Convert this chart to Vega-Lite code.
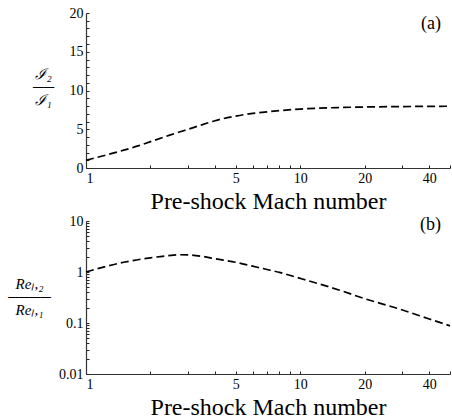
{
  "$schema": "https://vega.github.io/schema/vega-lite/v6.json",
  "description": "Post-shock to pre-shock ratios against pre-shock Mach number",
  "background": "white",
  "padding": {"left": 7, "top": 6, "right": 0, "bottom": 0},
  "spacing": 1,
  "datasets": {
    "ratio": [
      {"mach": 1, "value": 1.0},
      {"mach": 1.25, "value": 1.7},
      {"mach": 1.5, "value": 2.3},
      {"mach": 1.75, "value": 2.85},
      {"mach": 2, "value": 3.4},
      {"mach": 2.5, "value": 4.3},
      {"mach": 3, "value": 5.0},
      {"mach": 3.5, "value": 5.6},
      {"mach": 4, "value": 6.1},
      {"mach": 5, "value": 6.7},
      {"mach": 6, "value": 7.05},
      {"mach": 7, "value": 7.25},
      {"mach": 8, "value": 7.4},
      {"mach": 10, "value": 7.6},
      {"mach": 15, "value": 7.8},
      {"mach": 20, "value": 7.87},
      {"mach": 30, "value": 7.93},
      {"mach": 40, "value": 7.95},
      {"mach": 50, "value": 7.97}
    ],
    "reynolds": [
      {"mach": 1, "value": 1.0},
      {"mach": 1.25, "value": 1.3},
      {"mach": 1.5, "value": 1.55},
      {"mach": 2, "value": 1.9},
      {"mach": 2.5, "value": 2.12},
      {"mach": 2.75, "value": 2.18},
      {"mach": 3, "value": 2.17},
      {"mach": 3.5, "value": 2.02},
      {"mach": 4, "value": 1.82},
      {"mach": 5, "value": 1.55},
      {"mach": 6, "value": 1.3},
      {"mach": 7, "value": 1.12},
      {"mach": 8, "value": 0.98},
      {"mach": 10, "value": 0.75},
      {"mach": 15, "value": 0.45},
      {"mach": 20, "value": 0.3},
      {"mach": 30, "value": 0.18},
      {"mach": 40, "value": 0.12},
      {"mach": 50, "value": 0.088}
    ]
  },
  "vconcat": [
    {
      "width": 364,
      "height": 155,
      "data": {"name": "ratio"},
      "title": {"text": "(a)", "dx": -9, "offset": -27},
      "mark": {"type": "line", "interpolate": "monotone", "color": "black", "strokeWidth": 1.7, "strokeDash": [8, 4]},
      "encoding": {
        "x": {
          "field": "mach",
          "type": "quantitative",
          "scale": {"type": "log", "domain": [1, 50], "nice": false},
          "axis": {
            "values": [1, 2, 3, 4, 5, 6, 7, 8, 9, 10, 20, 30, 40, 50],
            "labelExpr": "indexof([1, 5, 10, 20, 40], datum.value) >= 0 ? format(datum.value, 'd') : ''",
            "labelOverlap": false
          },
          "title": "Pre-shock Mach number"
        },
        "y": {
          "field": "value",
          "type": "quantitative",
          "scale": {"domain": [0, 20], "nice": false},
          "axis": {
            "values": [0, 1, 2, 3, 4, 5, 6, 7, 8, 9, 10, 11, 12, 13, 14, 15, 16, 17, 18, 19, 20],
            "labelExpr": "datum.value == 0 ? '0' : datum.value == 5 ? '5' : datum.value == 10 ? '10' : datum.value == 15 ? '15' : datum.value == 20 ? '20' : ''",
            "labelOverlap": false,
            "labelBound": false,
            "titleX": -43,
            "titleY": 60
          },
          "title": ["ℐ₂", "──", "ℐ₁"]
        }
      }
    },
    {
      "width": 364,
      "height": 153,
      "data": {"name": "reynolds"},
      "title": {"text": "(b)", "dx": -9, "offset": -20},
      "mark": {"type": "line", "interpolate": "monotone", "color": "black", "strokeWidth": 1.7, "strokeDash": [8, 4]},
      "encoding": {
        "x": {
          "field": "mach",
          "type": "quantitative",
          "scale": {"type": "log", "domain": [1, 50], "nice": false},
          "axis": {
            "values": [1, 2, 3, 4, 5, 6, 7, 8, 9, 10, 20, 30, 40, 50],
            "labelExpr": "indexof([1, 5, 10, 20, 40], datum.value) >= 0 ? format(datum.value, 'd') : ''",
            "labelOverlap": false
          },
          "title": "Pre-shock Mach number"
        },
        "y": {
          "field": "value",
          "type": "quantitative",
          "scale": {"type": "log", "domain": [0.01, 10], "nice": false},
          "axis": {
            "values": [0.01, 0.02, 0.03, 0.04, 0.05, 0.06, 0.07, 0.08, 0.09, 0.1, 0.2, 0.3, 0.4, 0.5, 0.6, 0.7, 0.8, 0.9, 1, 2, 3, 4, 5, 6, 7, 8, 9, 10],
            "labelExpr": "datum.value == 0.01 ? '0.01' : datum.value == 0.1 ? '0.1' : datum.value == 1 ? '1' : datum.value == 10 ? '10' : ''",
            "labelOverlap": false,
            "labelBound": false,
            "titleX": -57,
            "titleY": 62
          },
          "title": ["Reₗ,₂", "────", "Reₗ,₁"]
        }
      }
    }
  ],
  "config": {
    "font": "Liberation Serif",
    "view": {"stroke": null},
    "title": {
      "anchor": "end",
      "frame": "group",
      "font": "Liberation Serif",
      "fontSize": 18,
      "fontWeight": "normal",
      "color": "black"
    },
    "axis": {
      "grid": false,
      "domainColor": "#333",
      "domainWidth": 1.2,
      "tickColor": "#222",
      "tickWidth": 1,
      "tickSize": -3,
      "labelPadding": 6,
      "labelOverlap": false,
      "labelFont": "Liberation Serif",
      "labelFontSize": 14,
      "labelColor": "black",
      "titleFont": "Liberation Serif",
      "titleFontSize": 24,
      "titleFontWeight": "normal",
      "titleColor": "black",
      "titlePadding": 4
    },
    "axisY": {
      "titleAngle": 0,
      "titleAlign": "center",
      "titleBaseline": "middle",
      "titleFontSize": 15,
      "titleFontStyle": "italic",
      "titleLineHeight": 13
    }
  }
}
